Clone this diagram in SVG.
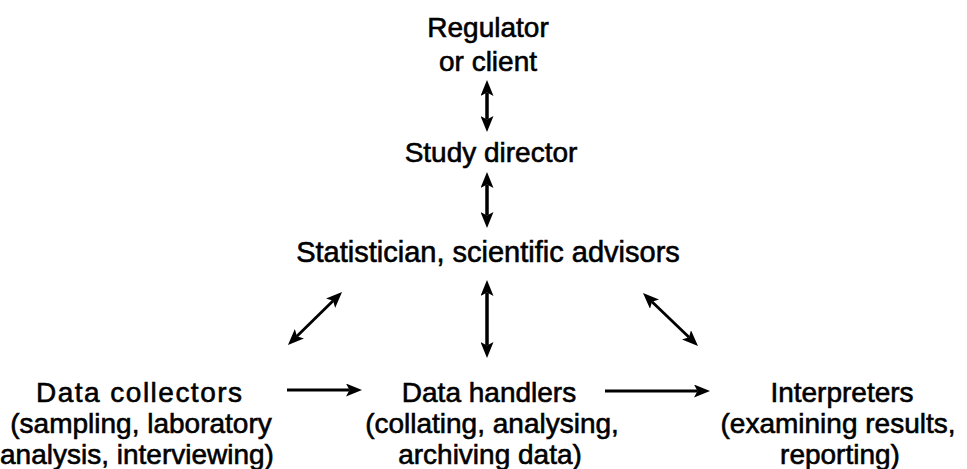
<svg xmlns="http://www.w3.org/2000/svg" width="967" height="469" viewBox="0 0 967 469">
  <style>
    .lbl { font-family: "Liberation Sans", Arial, Helvetica, sans-serif; font-size: 28px; fill: #000; stroke: #000; stroke-width: 0.6; text-anchor: middle; }
    .link { stroke: #000; fill: none; stroke-width: 3.5; }
    .thin { stroke-width: 2.8; }
  </style>
  <defs>
    <marker id="head" viewBox="0 0 16 13" refX="3.5" refY="6.5" markerWidth="16" markerHeight="13" markerUnits="userSpaceOnUse" orient="auto-start-reverse">
      <path d="M0,0 L16,6.5 L0,13 L3.5,6.5 z" fill="#000"/>
    </marker>
  </defs>
  <rect width="967" height="469" fill="#fff"/>

  <g id="regulator">
    <text class="lbl" x="488" y="37">Regulator</text>
    <text class="lbl" x="488" y="71">or client</text>
  </g>
  <g id="study-director">
    <text class="lbl" x="491" y="162">Study director</text>
  </g>
  <g id="statistician">
    <text class="lbl" x="488" y="262" style="font-size:29px">Statistician, scientific advisors</text>
  </g>
  <g id="data-collectors">
    <text class="lbl" x="139" y="402" textLength="206" lengthAdjust="spacing">Data collectors</text>
    <text class="lbl" x="141" y="433">(sampling, laboratory</text>
    <text class="lbl" x="137" y="464">analysis, interviewing)</text>
  </g>
  <g id="data-handlers">
    <text class="lbl" x="489" y="402">Data handlers</text>
    <text class="lbl" x="492" y="433">(collating, analysing,</text>
    <text class="lbl" x="490" y="464">archiving data)</text>
  </g>
  <g id="interpreters">
    <text class="lbl" x="842" y="402">Interpreters</text>
    <text class="lbl" x="838" y="433">(examining results,</text>
    <text class="lbl" x="840" y="464">reporting)</text>
  </g>

  <g id="connectors">
    <line class="link" x1="487" y1="92.5" x2="487" y2="119.5" marker-start="url(#head)" marker-end="url(#head)"/>
    <line class="link" x1="487" y1="184.5" x2="487" y2="215.5" marker-start="url(#head)" marker-end="url(#head)"/>
    <line class="link" x1="487" y1="292.5" x2="487" y2="345.5" marker-start="url(#head)" marker-end="url(#head)"/>
    <line class="link thin" x1="333.1" y1="300.8" x2="296.9" y2="336.2" marker-start="url(#head)" marker-end="url(#head)"/>
    <line class="link thin" x1="652" y1="301.7" x2="689" y2="337.3" marker-start="url(#head)" marker-end="url(#head)"/>
    <line class="link thin" x1="287" y1="390" x2="349.5" y2="390" marker-end="url(#head)"/>
    <line class="link thin" x1="605" y1="391" x2="697.5" y2="391" marker-end="url(#head)"/>
  </g>
</svg>
